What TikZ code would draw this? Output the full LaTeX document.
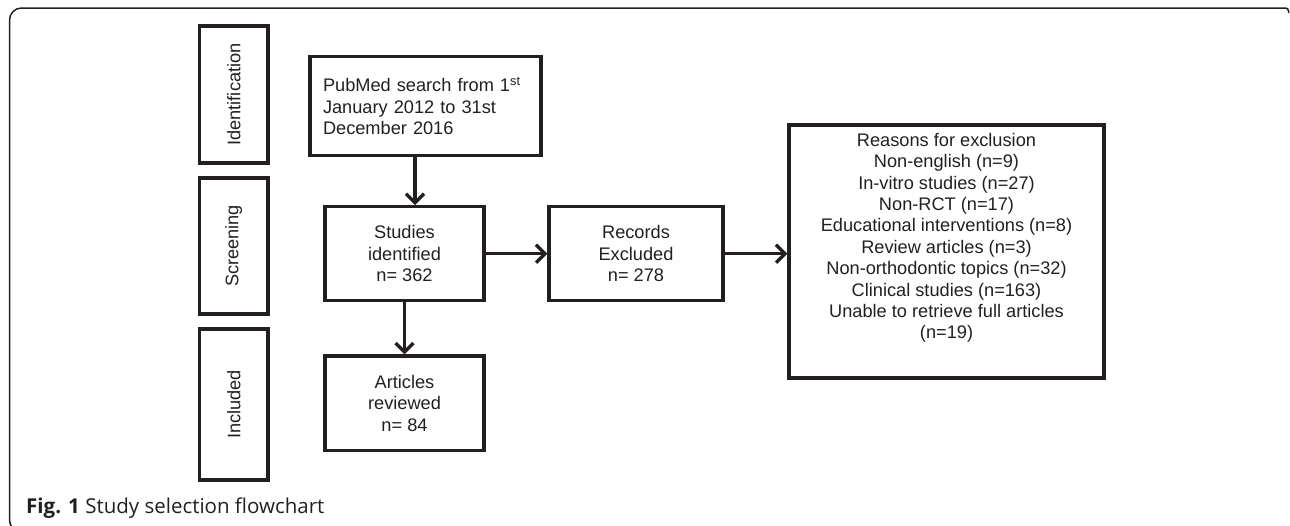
\documentclass[tikz,border=0pt]{standalone}
\usepackage{fontspec}
\setmainfont{Liberation Sans}
\newfontfamily\capfont{Open Sans}
\usetikzlibrary{arrows.meta}
\definecolor{ink}{HTML}{231F20}
\begin{document}
\begin{tikzpicture}[x=1pt,y=-1pt,
  box/.style={draw=ink, line width=3.3pt, text=ink, inner sep=0pt, align=center,
    font=\fontsize{18.2}{21.4}\selectfont},
  arr/.style={draw=ink, line width=3.3pt, -{Straight Barb[length=9pt,width=18pt]}},
  frame/.style={draw=ink, line width=1.5pt}]
\useasboundingbox (0,0) rectangle (1290,525);
\clip (0,0) rectangle (1290,525);
% outer frame
\draw[frame] (1288.5,13) [rounded corners=3pt]-- (1288.5,8) [rounded corners=12pt]-- (9.5,8) -- (9.5,532) -- (40,532);
% stage boxes
\node[box, minimum width=68.5, minimum height=137] (ident) at (233.75,94.5) {\rotatebox{90}{Identification}};
\node[box, minimum width=68.5, minimum height=136] (screen) at (233.75,246) {\rotatebox{90}{Screening}};
\node[box, minimum width=68.5, minimum height=151] (incl) at (233.75,404.5) {\rotatebox{90}{Included}};
% flow boxes
\node[box, align=left, text width=205pt, inner xsep=13pt, minimum height=99] (pub) at (425.5,106)
  {PubMed search from 1\textsuperscript{st}\\January 2012 to 31st\\December 2016};
\node[box, minimum width=159, minimum height=94] (stud) at (404.5,253.7) {Studies\\identified\\n= 362};
\node[box, minimum width=174, minimum height=94] (rec) at (636,253.7) {Records\\Excluded\\n= 278};
\node[box, minimum width=159, minimum height=94.7] (art) at (404.5,403.4) {Articles\\reviewed\\n= 84};
\node[box, minimum width=315, minimum height=253, text depth=31pt] (reas) at (946.5,251.5)
  {Reasons for exclusion\\Non-english (n=9)\\In-vitro studies (n=27)\\Non-RCT (n=17)\\Educational interventions (n=8)\\Review articles (n=3)\\Non-orthodontic topics (n=32)\\Clinical studies (n=163)\\Unable to retrieve full articles\\(n=19)};
% connectors
\draw[arr] ([xshift=-10.5pt]pub.south) -- ([xshift=-10.5pt]pub.south |- stud.north);
\draw[arr] (stud.east) -- (rec.west);
\draw[arr] (rec.east) -- (reas.west |- rec.east);
\draw[arr] (stud.south) -- (art.north);
% caption
\node[anchor=base west, inner sep=0pt, text=ink, font=\capfont\fontsize{20.5}{24}\selectfont] (cap) at (26,513.3)
  {\textbf{Fig. 1} Study selection flowchart};
\end{tikzpicture}
\end{document}
